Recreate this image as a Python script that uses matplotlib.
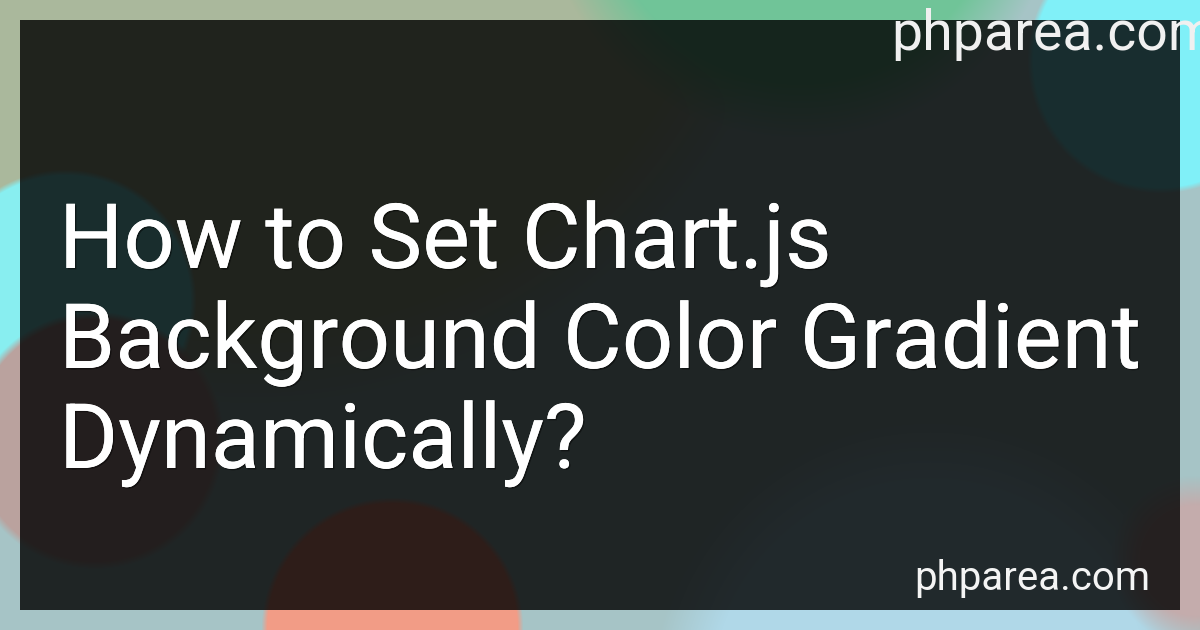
import numpy as np
import matplotlib
matplotlib.use("Agg")
import matplotlib.pyplot as plt
from matplotlib import patheffects as pe

# ---- content ----
title_lines = ["How to Set Chart.js", "Background Color Gradient", "Dynamically?"]
watermark = "phparea.com"

# ---- background bokeh blobs (cx, cy, radius, softness, rgb) ----
blob_x = [250, 800, 1160, 65, 95, 392, 930, 1195]
blob_y = [-150, -120, 60, 300, 440, 628, 700, 560]
blob_r = [520, 230, 130, 128, 125, 128, 250, 70]
blob_soft = [80, 60, 6, 6, 8, 6, 60, 30]
blob_rgb = [(170, 184, 156), (112, 196, 152), (128, 240, 248), (136, 238, 240),
            (186, 162, 158), (242, 156, 134), (176, 216, 232), (196, 172, 172)]
base_rgb = (166, 196, 198)

W, H = 1200, 630
yy, xx = np.mgrid[0:H, 0:W].astype(float)
img = np.ones((H, W, 3)) * np.array(base_rgb, float)
for cx, cy, r, s, c in zip(blob_x, blob_y, blob_r, blob_soft, blob_rgb):
    d = np.hypot(xx - cx, yy - cy)
    a = np.clip((r - d) / s + 0.5, 0, 1)[..., None]
    img = img * (1 - a) + np.array(c, float) * a
img = img / 255.0

fig = plt.figure(figsize=(12, 6.3), dpi=100)
ax = fig.add_axes([0, 0, 1, 1])
ax.set_xlim(0, W)
ax.set_ylim(H, 0)
ax.axis("off")
ax.imshow(img, extent=(0, W, H, 0), interpolation="bilinear", zorder=0)

# dark panel
ax.add_patch(plt.Rectangle((20, 20), 1160, 590, facecolor="#000000", alpha=0.81,
                           edgecolor="none", zorder=1))

shadow = [pe.withSimplePatchShadow(offset=(1, -1), shadow_rgbFace="black", alpha=0.45), pe.Normal()]

line_y = [268, 368, 468]
for txt, y in zip(title_lines, line_y):
    ax.text(59, y, txt, fontsize=65, family="Roboto", color="white",
            va="baseline", ha="left", zorder=3, path_effects=shadow)

ax.text(891, 50, watermark, fontsize=40, family="Roboto", color="#f0f0f0",
        va="baseline", ha="left", zorder=4)
ax.text(1150, 590, watermark, fontsize=29, family="Roboto", color="#f4f4f4",
        va="baseline", ha="right", zorder=4)

fig.savefig("out.png", dpi=100)
